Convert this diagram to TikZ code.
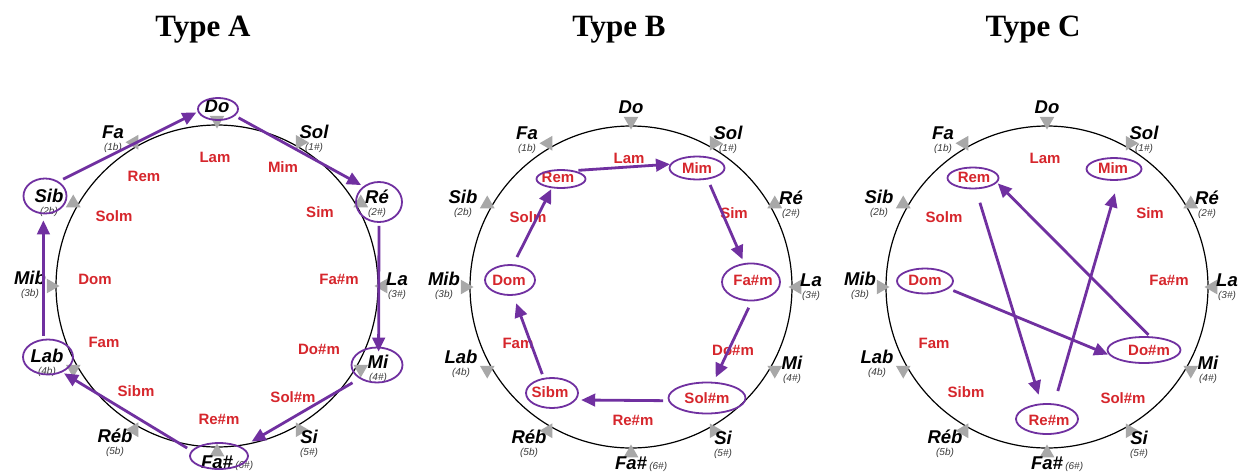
\documentclass[tikz,border=0pt]{standalone}
\usepackage{fontspec}
\setmainfont{Liberation Serif}
\newfontfamily\keyfont{Liberation Sans}
\usetikzlibrary{arrows.meta,shapes.geometric}

\definecolor{purp}{RGB}{112,48,160}
\definecolor{minorred}{RGB}{214,38,44}
\definecolor{notchgray}{RGB}{168,168,168}
\definecolor{subgray}{RGB}{60,60,60}

\tikzset{
  wheel/.style={draw=black, line width=1.2pt},
  notch/.style={regular polygon, regular polygon sides=3, fill=notchgray,
    minimum size=17pt, inner sep=0pt},
  major/.style={font=\keyfont\bfseries\itshape\fontsize{18.5}{18.5}\selectfont,
    inner sep=0pt, text height=13.3pt, text depth=0pt},
  sub/.style={font=\keyfont\itshape\fontsize{10}{10}\selectfont, text=subgray,
    inner sep=0pt, text height=7.2pt, text depth=0pt},
  minor/.style={font=\keyfont\bfseries\fontsize{15}{15}\selectfont, text=minorred,
    inner sep=0pt, text height=10.8pt, text depth=0pt},
  ring/.style={ellipse, draw=purp, line width=1.8pt, inner sep=0pt},
  link/.style={draw=purp, line width=2.8pt, -{Triangle[length=14pt,width=12.5pt]}},
  title/.style={font=\bfseries\fontsize{31}{31}\selectfont, inner sep=0pt,
    text height=21pt, text depth=0pt},
}

% circle of fifths: circle, notches, major keys with signatures, minor keys
\newcommand\keywheel[1]{%
  \draw[wheel] (0,0) circle[radius=161pt];
  \foreach \a in {0,30,...,330}
    \node[notch, rotate=\a+90] at (-\a:166) {};
  \node[major] (#1-do) at (0,-180) {Do};
  \foreach \n/\x/\y/\t/\s in {
      sol/97/-154/Sol/{(1\#)}, re/160/-89/Ré/{(2\#)}, la/180/-7/La/{(3\#)},
      mi/161/76/Mi/{(4\#)}, si/92/151/Si/{(5\#)}, reb/-102/150/Réb/{(5b)},
      lab/-170/70/Lab/{(4b)}, mib/-187/-8/Mib/{(3b)}, sib/-168/-90/Sib/{(2b)},
      fa/-104/-154/Fa/{(1b)}} {
    \node[major] (#1-\n) at (\x,\y) {\t};
    \node[sub] (#1-\n-sub) at (\x,\y+15) {\s};
  }
  \node[major] (#1-fas) at (0,176) {Fa\#};
  \node[sub, anchor=south west] (#1-fas-sub) at ([xshift=2pt]#1-fas.south east) {(6\#)};
  \foreach \n/\x/\y/\t in {
      lam/-2/-129/Lam, mim/66/-119/Mim, sim/103/-74/Sim, fasm/122/-7/Fa\#m,
      dosm/102/63/Do\#m, solsm/76/111/Sol\#m, resm/2/133/Re\#m, sibm/-81/105/Sibm,
      fam/-113/56/Fam, dom/-122/-7/Dom, solm/-103/-70/Solm, rem/-73/-110/Rem}
    \node[minor] (#1-\n) at (\x,\y) {\t};
}

\begin{document}
\begin{tikzpicture}[x=1pt,y=-1pt]
  \fill[white] (0,0) rectangle (1240,474);
  \useasboundingbox (0,0) rectangle (1240,474);

  \node[title] (titleA) at (203,26) {Type A};
  \node[title] (titleB) at (619,26) {Type B};
  \node[title] (titleC) at (1033,26) {Type C};

  % Type A: major keys a whole tone apart
  \begin{scope}[shift={(217,286)}]
    \keywheel{A}
    \node[ring, minimum width=40pt, minimum height=22pt] (A-do-ring) at (1,-177) {};
    \node[ring, minimum width=46pt, minimum height=40pt] (A-re-ring) at (162,-84) {};
    \node[ring, minimum width=51pt, minimum height=35pt] (A-mi-ring) at (160,79) {};
    \node[ring, minimum width=58pt, minimum height=26pt] (A-fas-ring) at (2,170) {};
    \node[ring, minimum width=50pt, minimum height=35pt] (A-lab-ring) at (-169,71) {};
    \node[ring, minimum width=43pt, minimum height=35pt] (A-sib-ring) at (-172,-90) {};
    \draw[link, shorten <=5pt, shorten >=1.5pt] (A-sib-ring.47) -- (A-do-ring.188);
    \draw[link, shorten <=4pt, shorten >=2.5pt] (A-do-ring.-22) -- (A-re-ring.135);
    \draw[link, shorten <=3pt, shorten >=-5pt] (A-re-ring.-90) -- (A-mi-ring.85);
    \draw[link, shorten <=8pt, shorten >=11pt] (A-mi-ring.218) -- (A-fas-ring.21);
    \draw[link, shorten <=5pt, shorten >=2pt] (A-fas-ring.169) -- (A-lab-ring.-47);
    \draw[link, shorten <=3pt, shorten >=6pt] (A-lab-ring.104) -- (A-sib-ring.-95);
  \end{scope}

  % Type B: relative minor keys a whole tone apart
  \begin{scope}[shift={(631,287)}]
    \keywheel{B}
    \node[ring, minimum width=49pt, minimum height=18pt] (B-rem-ring) at (-70,-108) {};
    \node[ring, minimum width=55pt, minimum height=23pt] (B-mim-ring) at (66,-119) {};
    \node[ring, minimum width=58pt, minimum height=37pt] (B-fasm-ring) at (120,-5) {};
    \node[ring, minimum width=77pt, minimum height=31pt] (B-solsm-ring) at (76,111) {};
    \node[ring, minimum width=52pt, minimum height=30pt] (B-sibm-ring) at (-79,106) {};
    \node[ring, minimum width=50pt, minimum height=30pt] (B-dom-ring) at (-121,-7) {};
    \draw[link, shorten <=4pt, shorten >=0pt] (B-rem-ring.32) -- (B-mim-ring.172);
    \draw[link, shorten <=6pt, shorten >=4pt] (B-mim-ring.-47) -- (B-fasm-ring.110);
    \draw[link, shorten <=7pt, shorten >=5pt] (B-fasm-ring.-88) -- (B-solsm-ring.68);
    \draw[link, shorten <=5pt, shorten >=5pt] (B-solsm-ring.184) -- (B-sibm-ring.-16);
    \draw[link, shorten <=4pt, shorten >=8pt] (B-sibm-ring.119) -- (B-dom-ring.-78);
    \draw[link, shorten <=8pt, shorten >=1pt] (B-dom-ring.78) -- (B-rem-ring.225);
  \end{scope}

  % Type C: minor keys a semitone apart
  \begin{scope}[shift={(1047,287)}]
    \keywheel{C}
    \node[ring, minimum width=51pt, minimum height=21pt] (C-rem-ring) at (-74,-109) {};
    \node[ring, minimum width=55pt, minimum height=22pt] (C-mim-ring) at (67,-118) {};
    \node[ring, minimum width=56pt, minimum height=25pt] (C-dom-ring) at (-122,-6) {};
    \node[ring, minimum width=73pt, minimum height=26pt] (C-dosm-ring) at (97,63) {};
    \node[ring, minimum width=62pt, minimum height=30pt] (C-resm-ring) at (0,132) {};
    \draw[link, shorten <=14pt, shorten >=9pt] (C-rem-ring.-76) -- (C-resm-ring.110);
    \draw[link, shorten <=13pt, shorten >=13pt] (C-resm-ring.65) -- (C-mim-ring.-69);
    \draw[link, shorten <=5pt, shorten >=1pt] (C-dom-ring.-18) -- (C-dosm-ring.188);
    \draw[link, shorten <=2pt, shorten >=1pt] (C-dosm-ring.67) -- (C-rem-ring.-11);
  \end{scope}
\end{tikzpicture}
\end{document}
